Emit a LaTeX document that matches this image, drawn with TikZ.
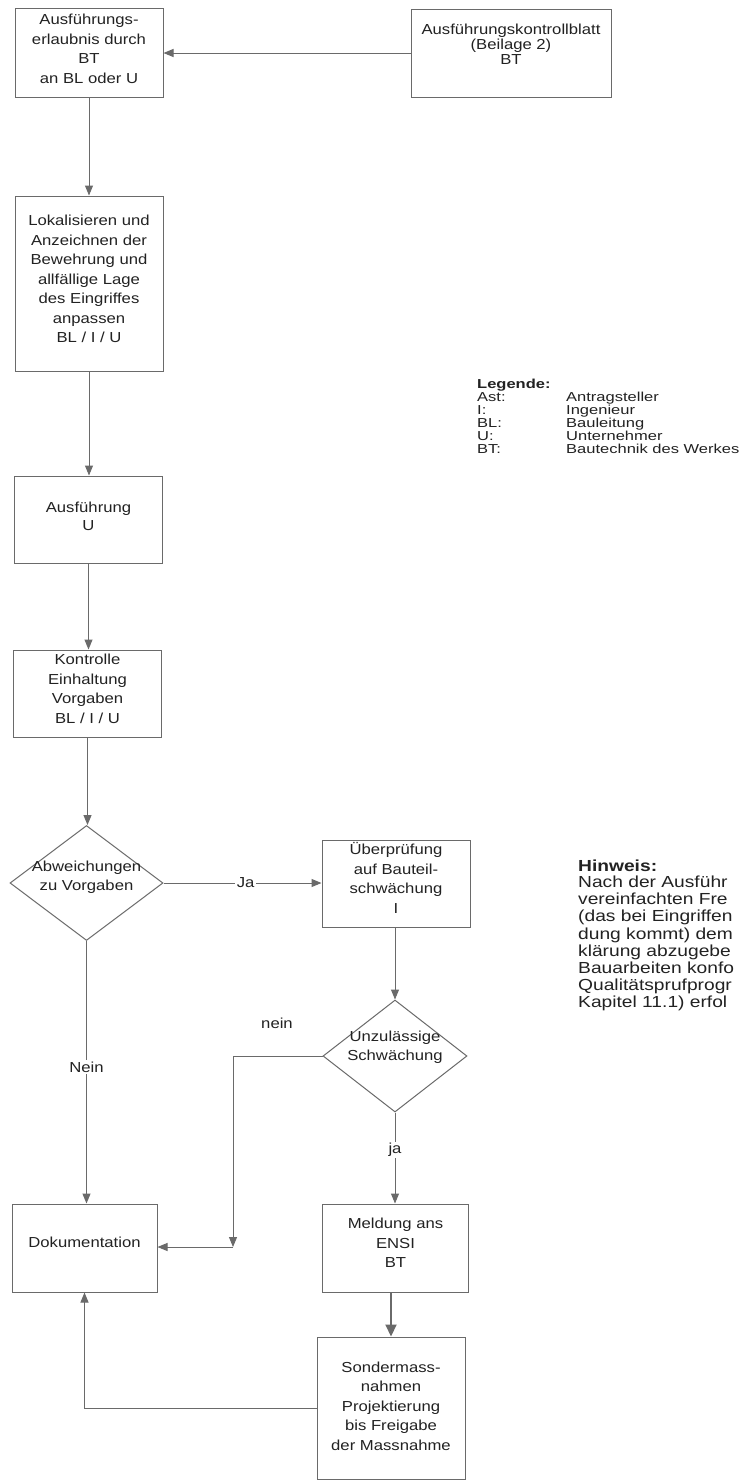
\documentclass[tikz,border=0pt]{standalone}
\usepackage{fontspec}
\setmainfont{Liberation Sans}[FakeStretch=1.15]
\newfontfamily\legfont{Liberation Sans}[FakeStretch=1.27]
\newfontfamily\hinfont{Liberation Sans}[FakeStretch=1.2]
\usetikzlibrary{arrows.meta,shapes.geometric}
\definecolor{ln}{HTML}{6A6A6A}
\definecolor{tx}{HTML}{222222}
\begin{document}
\begin{tikzpicture}[x=1pt,y=-1pt,
 box/.style={draw=ln,line width=1pt,rectangle,inner sep=0pt},
 dia/.style={draw=ln,line width=1pt,diamond,inner sep=0pt},
 txt/.style={align=center,inner sep=0pt,text=tx,font=\fontsize{14.5}{19.5}\selectfont},
 arr/.style={draw=ln,line width=1pt,-{Triangle[length=10pt,width=8pt]}},
 lnk/.style={draw=ln,line width=1pt},
 lab/.style={fill=white,inner sep=1.5pt,text=tx,font=\fontsize{14.5}{16}\selectfont},
 leg/.style={anchor=base west,inner sep=0pt,text=tx,font=\legfont\fontsize{13}{13}\selectfont},
 legb/.style={anchor=base west,inner sep=0pt,text=tx,font=\legfont\bfseries\fontsize{13}{13}\selectfont},
 hin/.style={anchor=base west,inner sep=0pt,text=tx,font=\hinfont\fontsize{16}{17}\selectfont},
 hinb/.style={anchor=base west,inner sep=0pt,text=tx,font=\hinfont\bfseries\fontsize{16}{17}\selectfont},
]
\useasboundingbox[fill=white] (0,0) rectangle (740,1481);

% boxes
\node[box,minimum width=148,minimum height=89] (b1) at (89,52.5) {};
\node[box,minimum width=200,minimum height=88] (b2) at (511,53) {};
\node[box,minimum width=148,minimum height=175] (b3) at (89,283.5) {};
\node[box,minimum width=148,minimum height=87] (b4) at (88.5,519.5) {};
\node[box,minimum width=148,minimum height=87] (b5) at (87.5,693.5) {};
\node[dia,minimum width=153,minimum height=115] (d1) at (86.5,883) {};
\node[box,minimum width=148,minimum height=87] (b6) at (396,883.5) {};
\node[dia,minimum width=144,minimum height=112] (d2) at (395,1056) {};
\node[box,minimum width=145,minimum height=88] (doku) at (84.5,1248) {};
\node[box,minimum width=146,minimum height=88] (b7) at (395.5,1248) {};
\node[box,minimum width=148,minimum height=142] (b8) at (391,1408) {};

% texts
\node[txt] (t1) at (89,49) {Ausführungs-\\erlaubnis durch\\BT\\an BL oder U};
\node[txt,font=\fontsize{14.5}{15}\selectfont] (t2) at (511,44) {Ausführungskontrollblatt\\(Beilage 2)\\BT};
\node[txt] (t3) at (89,279) {Lokalisieren und\\Anzeichnen der\\Bewehrung und\\allfällige Lage\\des Eingriffes\\anpassen\\BL / I / U};
\node[txt,font=\fontsize{14.5}{18}\selectfont] (t4) at (88.5,516) {Ausführung\\U};
\node[txt] (t5) at (87.5,689) {Kontrolle\\Einhaltung\\Vorgaben\\BL / I / U};
\node[txt] (td1) at (86.5,877) {Abweichungen\\zu Vorgaben};
\node[txt] (t6) at (396,878) {Überprüfung\\auf Bauteil-\\schwächung\\I};
\node[txt] (td2) at (395,1047) {Unzulässige\\Schwächung};
\node[txt] (tdoku) at (84.5,1242) {Dokumentation};
\node[txt] (t7) at (395.5,1243) {Meldung ans\\ENSI\\BT};
\node[txt] (t8) at (391,1406) {Sondermass-\\nahmen\\Projektierung\\bis Freigabe\\der Massnahme};

% connectors
\draw[arr] (b2.west) -- (b2.west -| b1.east);
\draw[arr] (b1.south) -- (b3.north);
\draw[arr] (b3.south) -- (b3.south |- b4.north);
\draw[arr] (b4.south) -- (b4.south |- b5.north);
\draw[arr] (b5.south) -- (b5.south |- d1.north);
\draw[arr] (d1.east) -- node[lab,pos=0.52] (lja) {Ja} (d1.east -| b6.west);
\draw[arr] (b6.south) -- (b6.south -| d2.north) -- (d2.north);
\draw[arr] (d2.south) -- node[lab,pos=0.41] (lja2) {ja} (d2.south |- b7.north);
\draw[arr] (d1.south) -- node[lab,pos=0.48] (lnein1) {Nein} (d1.south |- doku.north);
\coordinate (c1) at (233,1050);
\coordinate (c2) at (233,1247);
\draw[lnk] (d2.west) -- (d2.west -| c1);
\draw[arr] (d2.west -| c1) -- (c2);
\draw[arr] (c2) -- (c2 -| doku.east);
\node[lab,fill=none] (lnein2) at (277,1023) {nein};
\draw[draw=ln,line width=2pt,-{Triangle[length=12pt,width=11pt]}] (b7.south -| b8.north) -- (b8.north);
\draw[arr] (b8.west) -| (doku.south);

% legend
\node[legb] (lg) at (477,388) {Legende:};
\node[leg] (lg1a) at (477,401) {Ast:};
\node[leg] (lg1b) at (566,401) {Antragsteller};
\node[leg] (lg2a) at (477,414) {I:};
\node[leg] (lg2b) at (566,414) {Ingenieur};
\node[leg] (lg3a) at (477,427) {BL:};
\node[leg] (lg3b) at (566,427) {Bauleitung};
\node[leg] (lg4a) at (477,440) {U:};
\node[leg] (lg4b) at (566,440) {Unternehmer};
\node[leg] (lg5a) at (477,453) {BT:};
\node[leg] (lg5b) at (566,453) {Bautechnik des Werkes};

% Hinweis
\node[hinb] (h0) at (578,871) {Hinweis:};
\node[hin] (h1) at (578,887) {Nach der Ausführ};
\node[hin] (h2) at (578,904) {vereinfachten Fre};
\node[hin] (h3) at (578,921) {(das bei Eingriffen};
\node[hin] (h4) at (578,939) {dung kommt) dem};
\node[hin] (h5) at (578,956) {klärung abzugebe};
\node[hin] (h6) at (578,973) {Bauarbeiten konfo};
\node[hin] (h7) at (578,990) {Qualitätsprufprogr};
\node[hin] (h8) at (578,1007) {Kapitel 11.1) erfol};
\end{tikzpicture}
\end{document}
